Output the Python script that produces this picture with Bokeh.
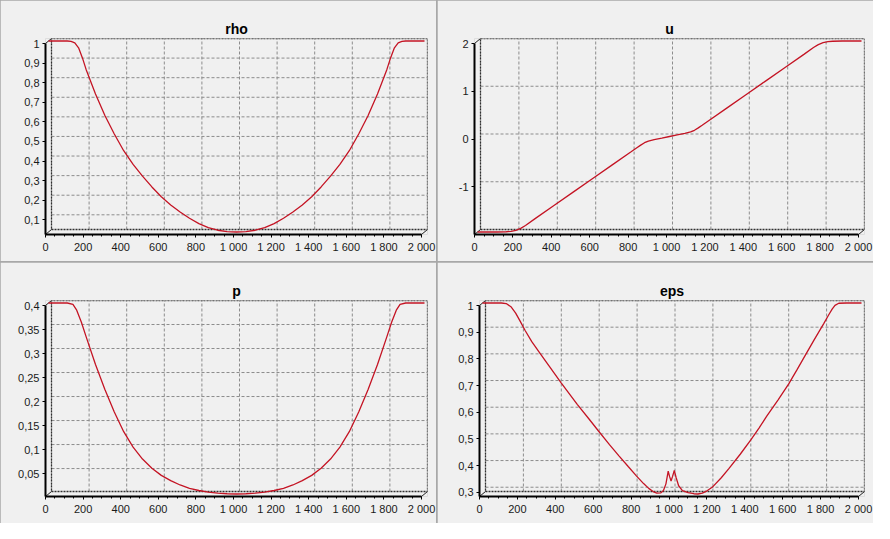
from bokeh.plotting import figure
from bokeh.models import Range1d, FixedTicker
from bokeh.layouts import column, row
from bokeh.embed import file_html
from bokeh.resources import INLINE

# ---------------- data ----------------
X_TICKS = [0, 200, 400, 600, 800, 1000, 1200, 1400, 1600, 1800, 2000]
X_TICK_LABELS = ["0", "200", "400", "600", "800", "1 000", "1 200", "1 400", "1 600", "1 800", "2 000"]
X_MINOR = [50 * i for i in range(41)]

rho_x = [0, 50, 100, 120, 140, 160, 180, 200, 250, 300, 350, 400, 450, 500, 550, 600, 650, 700, 750, 800, 850, 900, 950, 1000,
         1050, 1100, 1150, 1200, 1250, 1300, 1350, 1400, 1450, 1500, 1550, 1600, 1650, 1700, 1750, 1800, 1820, 1840, 1860, 1880, 1900, 1950, 2000]
rho_y = [1.0, 1.0, 1.0, 0.998, 0.99, 0.965, 0.915, 0.855, 0.73, 0.62, 0.525, 0.44, 0.37, 0.31, 0.255, 0.205, 0.163, 0.127, 0.095, 0.068, 0.047, 0.034, 0.027, 0.025,
         0.027, 0.034, 0.047, 0.068, 0.095, 0.127, 0.163, 0.205, 0.255, 0.31, 0.37, 0.44, 0.525, 0.62, 0.73, 0.855, 0.915, 0.965, 0.99, 0.998, 1.0, 1.0, 1.0]
RHO_TICKS = [0.1, 0.2, 0.3, 0.4, 0.5, 0.6, 0.7, 0.8, 0.9, 1.0]
RHO_TICK_LABELS = ["0,1", "0,2", "0,3", "0,4", "0,5", "0,6", "0,7", "0,8", "0,9", "1"]

u_x = [0, 50, 100, 150, 175, 200, 225, 250, 300, 400, 500, 600, 700, 800, 830, 850, 870, 890, 920, 960, 1000,
       1040, 1080, 1110, 1130, 1150, 1170, 1200, 1300, 1400, 1500, 1600, 1700, 1750, 1775, 1800, 1825, 1850, 1900, 1950, 2000]
u_y = [-2.0, -2.0, -2.0, -1.995, -1.985, -1.965, -1.925, -1.865, -1.72, -1.44, -1.16, -0.88, -0.6, -0.32, -0.235, -0.18, -0.13, -0.095, -0.065, -0.035, 0.0,
       0.035, 0.065, 0.095, 0.13, 0.18, 0.235, 0.32, 0.6, 0.88, 1.16, 1.44, 1.72, 1.865, 1.925, 1.965, 1.985, 1.995, 2.0, 2.0, 2.0]
U_TICKS = [-1, 0, 1, 2]
U_TICK_LABELS = ["-1", "0", "1", "2"]

p_x = [0, 50, 100, 130, 150, 175, 200, 250, 300, 350, 400, 450, 500, 550, 600, 650, 700, 750, 800, 850, 900, 950, 1000,
       1050, 1100, 1150, 1200, 1250, 1300, 1350, 1400, 1450, 1500, 1550, 1600, 1650, 1700, 1750, 1800, 1825, 1850, 1870, 1900, 1950, 2000]
p_y = [0.4, 0.4, 0.4, 0.397, 0.385, 0.36, 0.33, 0.272, 0.22, 0.173, 0.132, 0.1, 0.075, 0.056, 0.041, 0.03, 0.021, 0.014, 0.0095, 0.0062, 0.004, 0.0027, 0.0022,
       0.0027, 0.004, 0.0062, 0.0095, 0.014, 0.021, 0.03, 0.041, 0.056, 0.075, 0.1, 0.132, 0.173, 0.22, 0.272, 0.33, 0.36, 0.385, 0.397, 0.4, 0.4, 0.4]
P_TICKS = [0.05, 0.1, 0.15, 0.2, 0.25, 0.3, 0.35, 0.4]
P_TICK_LABELS = ["0,05", "0,1", "0,15", "0,2", "0,25", "0,3", "0,35", "0,4"]

eps_x = [0, 50, 100, 125, 150, 175, 200, 225, 260, 300, 350, 416, 500, 560, 610, 670, 720, 770, 812, 850, 877, 900, 920, 940, 955, 968,
         980, 987, 995, 1003, 1012, 1022, 1035, 1055, 1085, 1115, 1137, 1160, 1185, 1212, 1260, 1300, 1360, 1416, 1460, 1500, 1560, 1616,
         1660, 1700, 1750, 1800, 1825, 1845, 1860, 1880, 1920, 1960, 2000]
eps_y = [1.0, 1.0, 1.0, 0.998, 0.986, 0.962, 0.93, 0.897, 0.855, 0.815, 0.765, 0.70, 0.62, 0.567, 0.522, 0.469, 0.427, 0.386, 0.352, 0.323, 0.305, 0.293, 0.287, 0.288, 0.297, 0.322,
         0.37, 0.35, 0.333, 0.35, 0.372, 0.345, 0.315, 0.297, 0.289, 0.285, 0.284, 0.287, 0.296, 0.309, 0.345, 0.379, 0.433, 0.487, 0.532, 0.576, 0.637, 0.697,
         0.75, 0.80, 0.862, 0.922, 0.953, 0.977, 0.991, 0.999, 1.0, 1.0, 1.0]
EPS_TICKS = [0.3, 0.4, 0.5, 0.6, 0.7, 0.8, 0.9, 1.0]
EPS_TICK_LABELS = ["0,3", "0,4", "0,5", "0,6", "0,7", "0,8", "0,9", "1"]

# ---------------- styling ----------------
W, H = 436, 261
FR, FT, FB = 9, 38, 27
DXP, DYP = 6, 5
BG = "#f0f0f0"
FONT = "Liberation Sans"
LINE = "#c41424"


def panel(title, xs, ys, yticks, ylabels, fl):
    fw = W - fl - FR
    fh = H - FT - FB
    x_lo, x_hi = 0, 2000
    y_lo, y_hi = min(ys), max(ys)
    sx = (x_hi - x_lo) / (fw - DXP)
    sy = (y_hi - y_lo) / (fh - DYP)
    dx, dy = DXP * sx, DYP * sy
    p = figure(width=W, height=H, output_backend="svg", toolbar_location=None,
               x_range=Range1d(x_lo, x_lo + fw * sx), y_range=Range1d(y_lo, y_lo + fh * sy),
               min_border_left=fl, min_border_right=FR, min_border_top=FT, min_border_bottom=FB,
               background_fill_color=BG, border_fill_color=BG, outline_line_color=None)
    p.xgrid.visible = False
    p.ygrid.visible = False
    p.title.text = title
    p.title.align = "center"
    p.title.text_font = FONT
    p.title.text_font_size = "14px"
    p.title.text_font_style = "bold"
    p.title.text_color = "#000000"
    p.title.standoff = 3

    xa = p.xaxis[0]
    xa.ticker = FixedTicker(ticks=X_TICKS, minor_ticks=X_MINOR)
    xa.major_label_overrides = dict(zip(X_TICKS, X_TICK_LABELS))
    xa.bounds = (x_lo, x_hi)
    ya = p.yaxis[0]
    ya.ticker = FixedTicker(ticks=yticks)
    ya.major_label_overrides = dict(zip(yticks, ylabels))
    ya.bounds = (y_lo, y_hi)
    for a in (xa, ya):
        a.axis_line_color = "#000000"
        a.axis_line_width = 2
        a.major_tick_line_color = "#000000"
        a.minor_tick_line_color = "#000000"
        a.major_tick_in = 0
        a.major_tick_out = 3
        a.minor_tick_in = 0
        a.minor_tick_out = 2
        a.major_label_text_font = FONT
        a.major_label_text_font_size = "11px"
        a.major_label_text_color = "#1a1a1a"
    xa.major_label_standoff = 3
    ya.major_label_standoff = 3

    bx0, bx1 = x_lo + dx, x_hi + dx
    by0, by1 = y_lo + dy, y_hi + dy
    # back-wall grid
    vt = [t + dx for t in X_TICKS]
    p.segment(x0=vt, y0=[by0] * len(vt), x1=vt, y1=[by1] * len(vt),
              line_color="#8c8c8c", line_width=1, line_dash="3 2")
    ht = [t + dy for t in yticks]
    p.segment(x0=[bx0] * len(ht), y0=ht, x1=[bx1] * len(ht), y1=ht,
              line_color="#8c8c8c", line_width=1, line_dash="3 2")
    # back wall border
    p.line([bx0, bx1, bx1, bx0, bx0], [by0, by0, by1, by1, by0],
           line_color="#303030", line_width=1.3, line_dash="2 1")
    # 3D edges
    p.segment(x0=[x_lo, x_lo, x_hi], y0=[y_lo, y_hi, y_lo], x1=[bx0, bx0, bx1], y1=[by0, by1, by0],
              line_color="#202020", line_width=1)
    # series (drawn at half depth)
    p.line([x + dx / 2 for x in xs], [y + dy / 2 for y in ys], line_color=LINE, line_width=1.3)
    return p


p1 = panel("rho", rho_x, rho_y, RHO_TICKS, RHO_TICK_LABELS, 45)
p2 = panel("u", u_x, u_y, U_TICKS, U_TICK_LABELS, 37)
p3 = panel("p", p_x, p_y, P_TICKS, P_TICK_LABELS, 45)
p4 = panel("eps", eps_x, eps_y, EPS_TICKS, EPS_TICK_LABELS, 42)

layout = column(row(p1, p2, spacing=1), row(p3, p4, spacing=1), spacing=1,
                styles={"background-color": "#a8a8a8"})

open("out.html", "w").write(file_html(layout, INLINE))
